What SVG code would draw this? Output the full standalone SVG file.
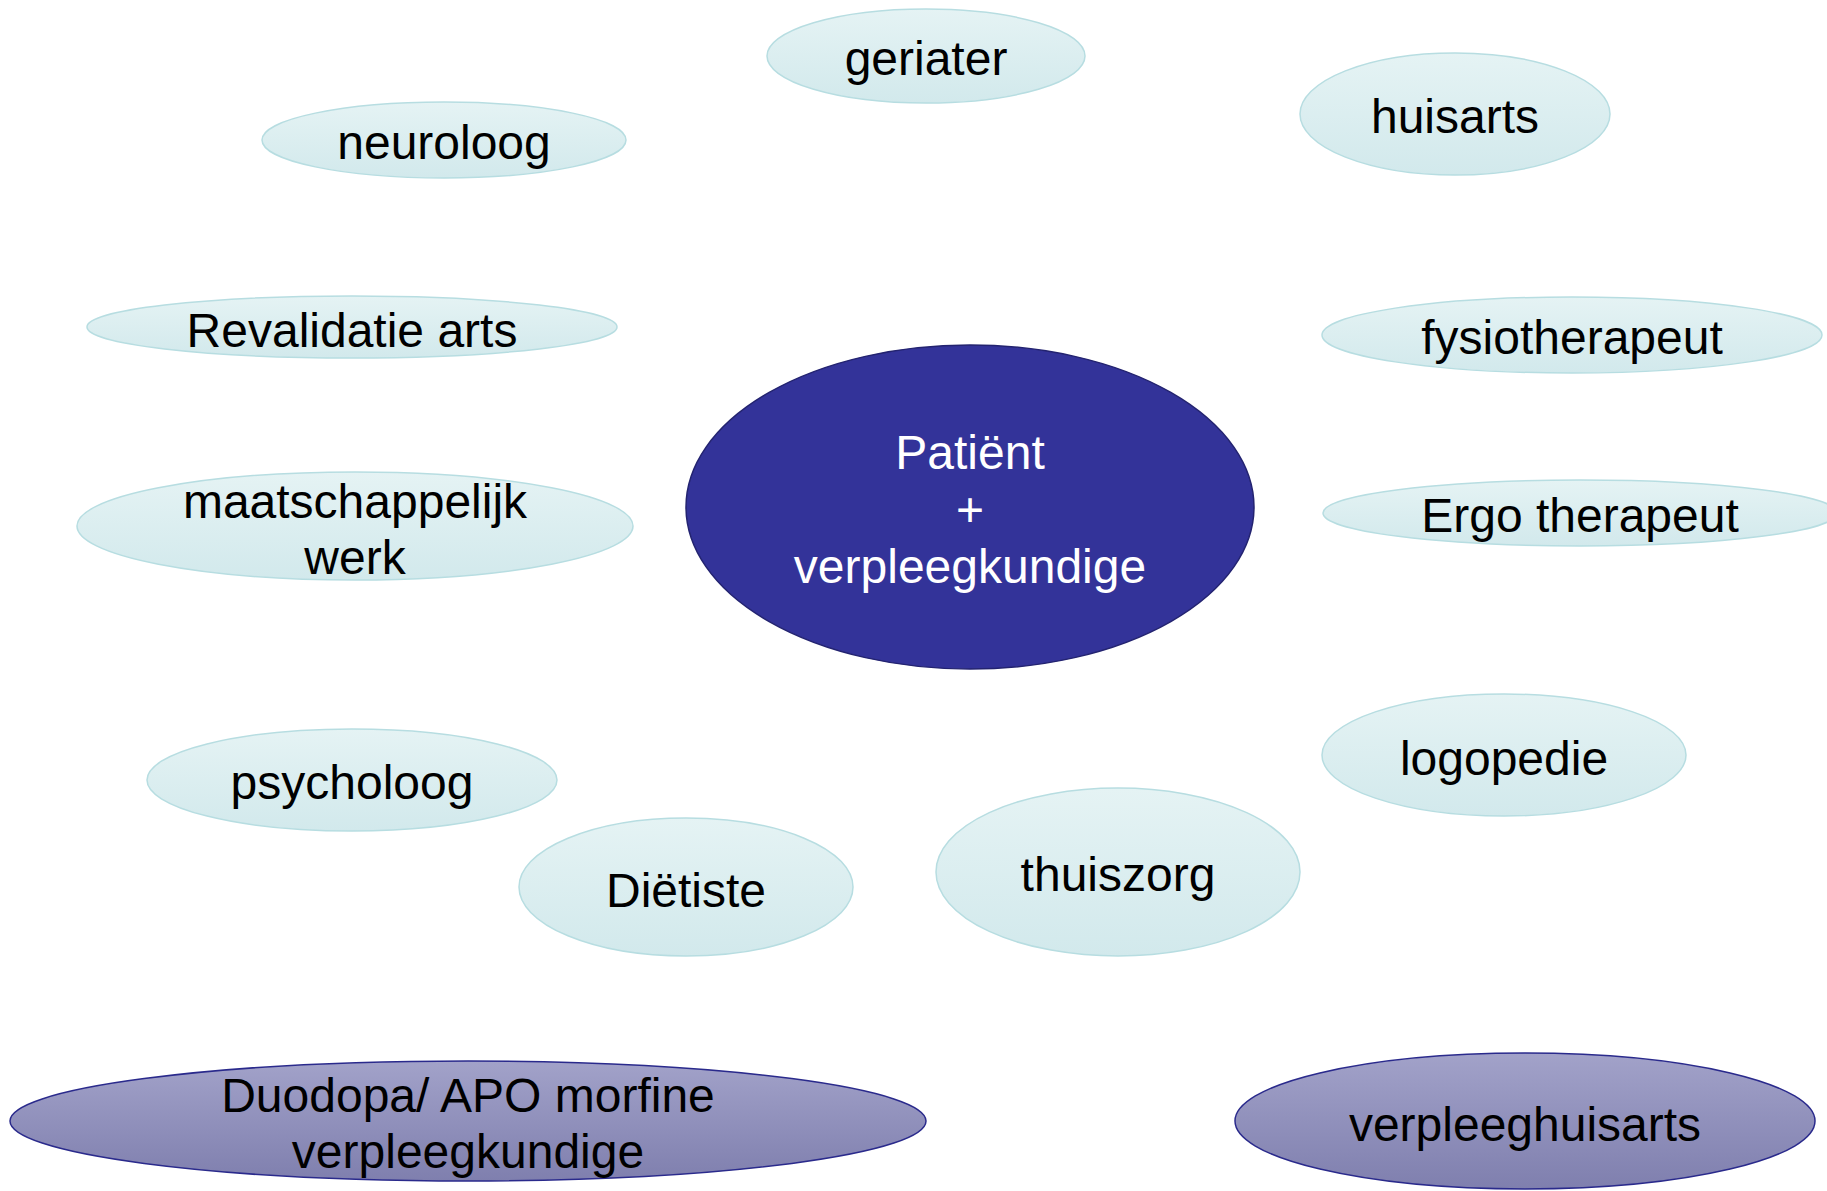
<svg xmlns="http://www.w3.org/2000/svg" width="1827" height="1191" viewBox="0 0 1827 1191">
<defs>
<linearGradient id="lg" x1="0" y1="0" x2="0" y2="1">
<stop offset="0" stop-color="#e5f3f4"/>
<stop offset="1" stop-color="#d2e9ec"/>
</linearGradient>
<linearGradient id="pg" x1="0" y1="0" x2="0" y2="1">
<stop offset="0" stop-color="#a2a2c9"/>
<stop offset="1" stop-color="#7f7fae"/>
</linearGradient>
<style>
.l{fill:url(#lg);stroke:#b7dde1;stroke-width:1.5}
.p{fill:url(#pg);stroke:#2a2a8c;stroke-width:1.5}
.c{fill:#333399;stroke:#232370;stroke-width:1.5}
text{font-family:"Liberation Sans",Arial,sans-serif;font-size:48px;text-anchor:middle;fill:#000}
.w{fill:#fff}
</style>
</defs>
<rect width="1827" height="1191" fill="#fff"/>
<g id="connectors"></g>
<g id="geriater"><ellipse class="l" cx="926" cy="56" rx="159" ry="47"/><text x="926" y="75">geriater</text></g>
<g id="huisarts"><ellipse class="l" cx="1455" cy="114" rx="155" ry="61"/><text x="1455" y="133">huisarts</text></g>
<g id="neuroloog"><ellipse class="l" cx="444" cy="140" rx="182" ry="38"/><text x="444" y="159">neuroloog</text></g>
<g id="revalidatie"><ellipse class="l" cx="352" cy="327" rx="265" ry="31"/><text x="352" y="347">Revalidatie arts</text></g>
<g id="fysiotherapeut"><ellipse class="l" cx="1572" cy="335" rx="250" ry="38"/><text x="1572" y="354">fysiotherapeut</text></g>
<g id="maatschappelijk"><ellipse class="l" cx="355" cy="526" rx="278" ry="54"/><text x="355" y="518">maatschappelijk</text><text x="355" y="574">werk</text></g>
<g id="patient"><ellipse class="c" cx="970" cy="507" rx="284" ry="162"/><text class="w" x="970" y="469">Patiënt</text><text class="w" x="970" y="526">+</text><text class="w" x="970" y="583">verpleegkundige</text></g>
<g id="ergo"><ellipse class="l" cx="1580" cy="513" rx="257" ry="33"/><text x="1580" y="532">Ergo therapeut</text></g>
<g id="logopedie"><ellipse class="l" cx="1504" cy="755" rx="182" ry="61"/><text x="1504" y="775">logopedie</text></g>
<g id="psycholoog"><ellipse class="l" cx="352" cy="780" rx="205" ry="51"/><text x="352" y="799">psycholoog</text></g>
<g id="dietiste"><ellipse class="l" cx="686" cy="887" rx="167" ry="69"/><text x="686" y="907">Diëtiste</text></g>
<g id="thuiszorg"><ellipse class="l" cx="1118" cy="872" rx="182" ry="84"/><text x="1118" y="891">thuiszorg</text></g>
<g id="duodopa"><ellipse class="p" cx="468" cy="1121" rx="458" ry="60"/><text x="468" y="1112">Duodopa/ APO morfine</text><text x="468" y="1168">verpleegkundige</text></g>
<g id="verpleeghuisarts"><ellipse class="p" cx="1525" cy="1121" rx="290" ry="68"/><text x="1525" y="1141">verpleeghuisarts</text></g>
</svg>
